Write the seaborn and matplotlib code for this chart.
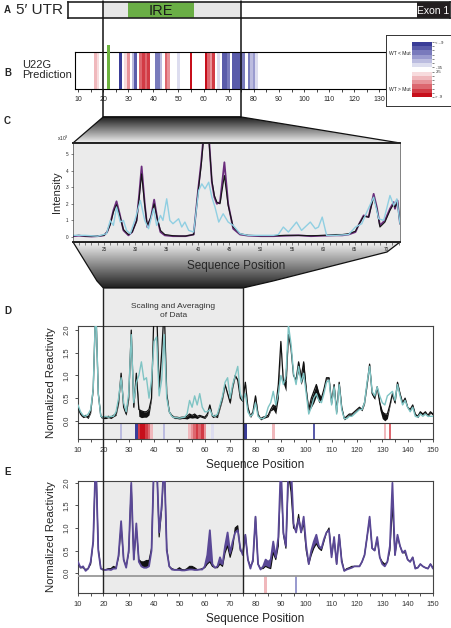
import numpy as np
import pandas as pd
import seaborn as sns
import matplotlib.pyplot as plt
from matplotlib.patches import Polygon, Rectangle

# ---------------- data ----------------
zoom_start, zoom_end = 20, 75      # region blown up in C and shaded in D/E
ire_start, ire_end = 30, 56
exon_start = 145
mut_pos = 22                       # U22G

# B: predicted reactivity differences (level -6 = WT > Mut ... +6 = WT < Mut)
b_pos = [17, 18, 27, 29, 30, 32, 33, 35, 36, 37, 38, 41, 42, 43, 45, 46, 50, 55,
         61, 62, 63, 64, 66, 68, 69, 70, 72, 73, 74, 75, 76, 78, 79, 80, 81]
b_level = [-2, -1, 6, -1, -3, 2, 5, -4, -5, -4, -5, 4, 4, 2, -4, -3, 1, -6,
           -6, -4, -3, -5, 1, 5, 5, 4, 5, 5, 5, 5, 4, 4, 2, 3, 1]

# C: capillary traces (x10^3)
c_x_mut = [20.1, 21, 22, 23, 24, 25, 25.5, 26, 26.5, 27, 27.5, 28.1, 28.9, 29.5, 30.2, 30.6,
           31.0, 31.5, 31.9, 32.5, 33.0, 33.5, 34.0, 34.7, 36, 37, 38, 39.3, 40.0, 40.5, 40.9,
           41.3, 41.7, 42.2, 42.6, 43.0, 43.5, 44.2, 44.8, 45.6, 46.7, 48, 50, 52, 54, 56,
           58, 60, 62, 63, 64, 65.1, 65.7, 66.4, 67.2, 68.0, 68.5, 69.0, 69.8, 70.6, 71.2,
           71.4, 71.8, 72.2]
c_purple = [0.05, 0.08, 0.05, 0.03, 0.05, 0.1, 0.3, 0.8, 1.6, 2.15, 1.4, 0.4, 0.1, 0.3, 1.0, 2.5,
            4.25, 2.0, 0.6, 1.2, 2.25, 1.1, 0.3, 0.1, 0.05, 0.05, 0.05, 0.15, 2.8, 4.5, 6.2,
            6.5, 6.2, 3.3, 2.4, 2.0, 2.1, 4.5, 2.0, 0.5, 0.15, 0.08, 0.05, 0.05, 0.08, 0.1,
            0.05, 0.08, 0.1, 0.1, 0.15, 0.3, 0.8, 1.3, 1.2, 2.6, 1.8, 0.7, 1.0, 1.7, 2.1,
            1.7, 2.2, 0.8]
c_black = [0.08, 0.1, 0.06, 0.05, 0.06, 0.1, 0.3, 0.75, 1.5, 1.95, 1.3, 0.45, 0.15, 0.3, 0.95, 2.3,
           3.8, 1.9, 0.7, 1.2, 2.0, 1.1, 0.4, 0.15, 0.08, 0.06, 0.06, 0.15, 2.7, 4.3, 6.0,
           6.3, 6.0, 3.4, 2.5, 2.1, 2.0, 3.7, 1.9, 0.6, 0.2, 0.1, 0.08, 0.08, 0.1, 0.1,
           0.08, 0.1, 0.15, 0.15, 0.2, 0.35, 0.8, 1.25, 1.2, 2.4, 1.7, 0.6, 0.9, 1.6, 2.0,
           1.8, 2.1, 0.8]
c_x_wt = [20.1, 22, 24, 25.4, 26.0, 26.5, 27.0, 27.6, 28.1, 28.6, 29.2, 30.0, 30.8, 31.5, 32.1,
          32.9, 33.4, 34.0, 34.4, 35.0, 35.5, 36.0, 36.9, 37.4, 37.9, 38.5, 39.3, 40.1, 40.6,
          41.1, 41.7, 42.2, 42.7, 43.3, 44.0, 44.8, 45.6, 46.7, 48, 50, 52, 52.8, 53.6, 54.4,
          55.7, 56.5, 57.9, 58.7, 59.2, 59.8, 60.5, 62, 64, 65.1, 66.1, 66.9, 68.0, 68.8,
          69.6, 70.6, 71.2, 71.7, 72.2]
c_blue = [0.1, 0.1, 0.05, 0.2, 1.0, 0.7, 1.8, 0.9, 1.0, 0.4, 0.2, 1.1, 2.2, 1.0, 0.5,
          1.7, 0.7, 1.3, 1.0, 2.3, 1.0, 0.8, 1.1, 0.6, 0.9, 0.4, 0.3, 2.8, 3.2,
          2.9, 3.3, 2.4, 1.8, 0.9, 1.4, 0.9, 0.7, 0.2, 0.1, 0.1, 0.1, 0.15, 0.6, 0.3,
          0.9, 0.4, 0.9, 0.5, 0.6, 1.2, 0.1, 0.1, 0.15, 0.6, 0.8, 1.5, 2.4, 1.1,
          1.0, 2.5, 1.9, 2.3, 0.8]

# D / E: normalized reactivity, positions 10..150
positions = np.arange(10, 151)
d_black = [0.30, 0.15, 0.10, 0.12, 0.08, 0.20, 0.70, 2.60, 0.60, 0.10,
           0.08, 0.08, 0.10, 0.08, 0.12, 0.15, 0.40, 1.05, 0.30, 0.15,
           0.50, 2.00, 0.30, 1.05, 0.25, 0.22, 0.20, 0.20, 0.25, 0.50,
           2.50, 2.50, 0.70, 1.50, 2.50, 0.60, 0.20, 0.12, 0.08, 0.08,
           0.07, 0.08, 0.08, 0.10, 0.15, 0.12, 0.15, 0.10, 0.12, 0.10,
           0.08, 0.15, 0.35, 0.10, 0.12, 0.10, 0.30, 0.50, 0.80, 0.60,
           0.40, 0.75, 1.00, 0.90, 0.50, 0.45, 0.85, 0.30, 0.10, 0.20,
           0.55, 0.15, 0.05, 0.08, 0.10, 0.12, 0.25, 0.35, 0.30, 0.80,
           1.75, 0.85, 0.90, 1.90, 1.60, 1.00, 0.90, 1.30, 0.95, 1.30,
           0.70, 0.25, 0.50, 0.65, 0.80, 0.60, 0.50, 0.70, 0.95, 0.95,
           0.40, 0.80, 0.20, 0.85, 0.30, 0.05, 0.10, 0.15, 0.15, 0.20,
           0.25, 0.30, 0.25, 0.40, 0.80, 1.25, 0.60, 0.50, 0.75, 0.40,
           0.20, 0.15, 0.15, 0.35, 0.60, 0.40, 0.85, 0.60, 0.40, 0.50,
           0.30, 0.25, 0.35, 0.15, 0.10, 0.20, 0.15, 0.20, 0.12, 0.20, 0.15]
d_band_wide = {34: 0.15, 35: 0.15, 36: 0.12, 37: 0.12, 38: 0.12, 53: 0.06, 54: 0.08,
               55: 0.06, 56: 0.08, 57: 0.05, 87: 0.10, 88: 0.15, 89: 0.30, 92: 0.25,
               97: 0.20, 98: 0.15, 99: 0.30, 102: 0.20, 103: 0.25, 104: 0.25, 105: 0.20,
               129: 0.15, 130: 0.15, 131: 0.15, 132: 0.10}
d_teal = [0.35, 0.20, 0.12, 0.10, 0.15, 0.25, 0.70, 2.60, 0.60, 0.10,
          0.08, 0.10, 0.08, 0.10, 0.10, 0.20, 0.50, 0.95, 0.40, 0.20,
          0.60, 1.90, 0.40, 0.85, 1.00, 1.30, 0.90, 0.95, 0.50, 0.90,
          1.75, 1.85, 0.55, 0.90, 1.90, 0.50, 0.20, 0.10, 0.07, 0.07,
          0.06, 0.07, 0.08, 0.15, 0.45, 0.30, 0.55, 0.35, 0.60, 0.30,
          0.20, 0.20, 0.25, 0.12, 0.10, 0.15, 0.35, 0.55, 0.85, 0.95,
          0.50, 0.80, 1.00, 1.20, 0.60, 0.45, 0.60, 0.20, 0.10, 0.15,
          0.40, 0.10, 0.05, 0.05, 0.10, 0.30, 0.40, 0.65, 0.35, 0.60,
          1.00, 0.80, 1.00, 2.10, 1.70, 1.05, 0.80, 1.20, 0.85, 1.05,
          0.60, 0.15, 0.30, 0.50, 0.60, 0.45, 0.40, 0.60, 0.85, 0.90,
          0.35, 0.75, 0.15, 0.80, 0.25, 0.05, 0.05, 0.10, 0.10, 0.15,
          0.20, 0.25, 0.25, 0.40, 0.85, 1.20, 0.65, 0.55, 0.75, 0.55,
          0.40, 0.35, 0.55, 0.60, 0.65, 0.45, 0.80, 0.55, 0.35, 0.45,
          0.30, 0.20, 0.30, 0.10, 0.08, 0.15, 0.10, 0.15, 0.10, 0.10, 0.10]
e_purple = [0.25, 0.12, 0.15, 0.05, 0.10, 0.25, 0.70, 2.60, 0.50, 0.10,
            0.07, 0.07, 0.08, 0.07, 0.10, 0.10, 0.40, 1.15, 0.30, 0.12,
            0.50, 2.00, 0.30, 1.10, 0.25, 0.15, 0.12, 0.12, 0.15, 0.50,
            2.50, 2.50, 0.90, 1.50, 2.50, 0.50, 0.15, 0.08, 0.07, 0.07,
            0.07, 0.06, 0.06, 0.07, 0.08, 0.08, 0.07, 0.07, 0.08, 0.08,
            0.15, 0.40, 0.95, 0.20, 0.12, 0.15, 0.35, 0.20, 0.60, 0.90,
            0.45, 0.70, 0.90, 0.95, 0.55, 0.40, 0.85, 0.30, 0.10, 0.30,
            1.25, 0.20, 0.08, 0.15, 0.30, 0.25, 0.30, 0.70, 0.35, 0.80,
            2.40, 0.90, 0.60, 2.40, 2.40, 1.10, 0.90, 1.20, 0.90, 1.25,
            0.60, 0.20, 0.50, 0.70, 0.85, 0.60, 0.55, 0.75, 0.90, 0.95,
            0.35, 0.80, 0.20, 0.85, 0.25, 0.05, 0.08, 0.10, 0.12, 0.15,
            0.15, 0.15, 0.25, 0.40, 0.80, 1.25, 0.55, 0.50, 0.80, 0.35,
            0.20, 0.15, 0.25, 0.60, 2.00, 0.40, 0.85, 0.60, 0.45, 0.50,
            0.30, 0.25, 0.35, 0.10, 0.12, 0.20, 0.15, 0.12, 0.10, 0.20, 0.10]
e_black = [0.20, 0.12, 0.12, 0.08, 0.10, 0.20, 0.70, 2.60, 0.55, 0.10,
           0.08, 0.08, 0.10, 0.10, 0.15, 0.12, 0.35, 1.05, 0.30, 0.15,
           0.45, 1.95, 0.30, 1.00, 0.30, 0.25, 0.25, 0.28, 0.28, 0.55,
           2.50, 2.50, 0.80, 1.40, 2.50, 0.55, 0.15, 0.10, 0.08, 0.08,
           0.12, 0.08, 0.07, 0.10, 0.15, 0.15, 0.12, 0.08, 0.08, 0.10,
           0.12, 0.20, 0.25, 0.15, 0.12, 0.12, 0.20, 0.15, 0.45, 0.60,
           0.35, 0.55, 1.00, 1.05, 0.50, 0.45, 0.85, 0.30, 0.15, 0.25,
           1.25, 0.20, 0.10, 0.10, 0.15, 0.12, 0.10, 0.45, 0.30, 0.60,
           2.20, 0.85, 0.55, 2.20, 1.80, 1.00, 0.95, 1.30, 0.90, 1.10,
           0.50, 0.20, 0.40, 0.55, 0.65, 0.55, 0.50, 0.70, 0.90, 1.00,
           0.40, 0.75, 0.20, 0.85, 0.30, 0.05, 0.10, 0.12, 0.15, 0.15,
           0.15, 0.15, 0.25, 0.40, 0.80, 1.20, 0.55, 0.50, 0.75, 0.35,
           0.25, 0.20, 0.25, 0.50, 1.50, 0.40, 0.80, 0.60, 0.45, 0.45,
           0.30, 0.25, 0.35, 0.12, 0.12, 0.20, 0.15, 0.12, 0.10, 0.20, 0.12]

d_strip_pos = [27, 33, 34, 35, 36, 37, 38, 39, 44, 54, 55, 56, 57, 58, 59, 60, 63, 76, 87, 103, 131, 133]
d_strip_level = [2, 6, -5, -6, -6, -5, -4, -2, 2, -2, -3, -4, -5, -4, -5, -3, 1, 6, -2, 5, -2, -4]
e_strip_pos = [84, 96]
e_strip_level = [-2, 3]

cb_labels = ['< -.9', '-.35', '.35', '> .9']

# ---------------- style ----------------
sns.set_theme(style='white')
plt.rcParams['font.family'] = ['Liberation Sans', 'DejaVu Sans']

pal = sns.blend_palette(['#3a3d98', '#9a9bcf', '#ffffff', '#e8959b', '#c70f1b'], 13)


def level_color(l):
    return pal[6 - l]


W, H = 452, 628
fig = plt.figure(figsize=(W / 100, H / 100), dpi=100)


def px_axes(x, y, w, h):
    return fig.add_axes([x / W, 1 - (y + h) / H, w / W, h / H])


def px_text(x, y, s, **kw):
    fig.text(x / W, 1 - y / H, s, **kw)


ax_bg = px_axes(0, 0, W, H)
ax_bg.set_zorder(-5)
ax_bg.axis('off')
ax_ov = px_axes(0, 0, W, H)
ax_ov.set_zorder(30)
ax_ov.axis('off')
for a in (ax_bg, ax_ov):
    a.set_xlim(0, W)
    a.set_ylim(H, 0)


def to_ov(ax, x, y):
    return ax_ov.transData.inverted().transform(ax.transData.transform((x, y)))


# ---------------- B ----------------
b_lim = (8.8, 132.6)
ax_b = px_axes(75, 52, 311, 37)
ax_b.set_xlim(*b_lim)
ax_b.set_ylim(0, 1)
ax_b.bar(b_pos, 1, width=1.05, color=[level_color(l) for l in b_level], linewidth=0)
ax_b.bar(mut_pos, 1.19, width=1.2, color='#6db33f', clip_on=False, zorder=4, linewidth=0)
ax_b.set_xticks(range(10, 131, 10))
ax_b.set_xticks(range(10, 131, 5), minor=True)
ax_b.set_yticks([])
ax_b.tick_params(axis='x', which='both', bottom=True, labelsize=5, length=2.5, width=0.6, pad=2.5)
for s in ax_b.spines.values():
    s.set_color('black')
    s.set_linewidth(0.8)

# legend box
ax_leg = px_axes(386, 35, 65, 71)
ax_leg.set_xticks([])
ax_leg.set_yticks([])
for s in ax_leg.spines.values():
    s.set_color('#333')
    s.set_linewidth(0.7)
ax_leg.text(0.04, 0.74, 'WT < Mut', fontsize=3.6, transform=ax_leg.transAxes, va='center')
ax_leg.text(0.04, 0.23, 'WT > Mut', fontsize=3.6, transform=ax_leg.transAxes, va='center')
ax_cb = px_axes(412, 42, 20, 55)
ax_cb.imshow(np.array(pal).reshape(13, 1, 3), aspect='auto')
ax_cb.set_xticks([])
ax_cb.yaxis.tick_right()
ax_cb.set_yticks(np.arange(-0.5, 13, 1))
ax_cb.set_yticklabels([cb_labels[0], '', '', '', '', '', cb_labels[1], cb_labels[2],
                       '', '', '', '', '', cb_labels[3]])
ax_cb.tick_params(axis='y', right=True, labelsize=3, length=1.5, width=0.4, pad=1)
for s in ax_cb.spines.values():
    s.set_visible(False)

# ---------------- A ----------------
ppu = 311 / (b_lim[1] - b_lim[0])
a_lim = (b_lim[0] - 7 / ppu, b_lim[0] + 375 / ppu)
ax_a = px_axes(68, 2, 382, 16)
ax_a.set_xlim(*a_lim)
ax_a.set_ylim(0, 1)
ax_a.axvspan(zoom_start, zoom_end, color='#e6e6e6', lw=0)
ax_a.axvspan(ire_start, ire_end, color='#6aae45', lw=0)
ax_a.axvspan(exon_start, a_lim[1], color='#231f20', lw=0)
ax_a.text((ire_start + ire_end) / 2, 0.45, 'IRE', ha='center', va='center', fontsize=10.5, color='#1a1a1a')
ax_a.text((exon_start + a_lim[1]) / 2, 0.45, 'Exon 1', ha='center', va='center', fontsize=7.5, color='white')
ax_a.set_xticks([])
ax_a.set_yticks([])
for s in ax_a.spines.values():
    s.set_color('#222')
    s.set_linewidth(1.2)

px_text(40, 10, '5\u2032 UTR', fontsize=11, ha='center', va='center')
px_text(22, 70, 'U22G\nPrediction', fontsize=8, ha='left', va='center', linespacing=1.1)

# ---------------- C ----------------
ax_c = px_axes(73, 143, 327, 99)
ax_c.set_facecolor('#ebebeb')
df_mut = pd.DataFrame({'pos': c_x_mut, 'purple': c_purple, 'black': c_black})
df_wt = pd.DataFrame({'pos': c_x_wt, 'blue': c_blue})
sns.lineplot(data=df_mut, x='pos', y='purple', ax=ax_c, color='#6a2c7c', lw=1.3)
sns.lineplot(data=df_mut, x='pos', y='black', ax=ax_c, color='#151515', lw=0.8)
sns.lineplot(data=df_wt, x='pos', y='blue', ax=ax_c, color='#90cfe2', lw=1.0)
ax_c.set_xlim(20.06, 72.2)
ax_c.set_ylim(-0.3, 5.66)
ax_c.set_yticks(range(0, 6))
ax_c.set_xticks(range(25, 71, 5))
ax_c.set_xticks(range(21, 73), minor=True)
ax_c.tick_params(axis='both', which='both', labelsize=3.3, length=1.8, width=0.4, pad=1.5,
                 bottom=True, left=True)
ax_c.set_xlabel('Sequence Position', fontsize=8.5, labelpad=6)
ax_c.set_ylabel('Intensity', fontsize=8, labelpad=3)
ax_c.text(-0.012, 1.0, 'x10$^3$', transform=ax_c.transAxes, fontsize=3.5, ha='right', va='bottom')
for k, s in ax_c.spines.items():
    s.set_color('#222')
    s.set_linewidth(1.4 if k in ('top', 'bottom') else 0.4)

# ---------------- D ----------------
ax_d = px_axes(78, 326, 355, 113)
df_d = pd.DataFrame({'pos': positions, 'black': d_black, 'teal': d_teal})
df_d['band'] = [d_band_wide.get(p, 0.03) for p in positions]
ax_d.axvspan(zoom_start, zoom_end, color='#ebebeb', lw=0, zorder=0)
ax_d.fill_between(df_d['pos'], df_d['black'] - df_d['band'], df_d['black'], color='#111', lw=0, zorder=2)
sns.lineplot(data=df_d, x='pos', y='black', ax=ax_d, color='#111', lw=0.9, zorder=3)
sns.lineplot(data=df_d, x='pos', y='teal', ax=ax_d, color='#7fc4c4', lw=1.0, zorder=4)
ax_d.bar(d_strip_pos, -0.35, bottom=-0.05, width=1,
         color=[level_color(l) for l in d_strip_level], lw=0, zorder=2)
ax_d.axhline(-0.05, color='#333', lw=0.8, zorder=5)
ax_d.set_ylim(-0.4, 2.09)

# ---------------- E ----------------
ax_e = px_axes(78, 481, 355, 112)
df_e = pd.DataFrame({'pos': positions, 'purple': e_purple, 'black': e_black})
ax_e.axvspan(zoom_start, zoom_end, color='#ebebeb', lw=0, zorder=0)
ax_e.fill_between(df_e['pos'], df_e['black'], df_e['purple'], where=df_e['purple'] >= df_e['black'],
                  interpolate=True, color='#5a4896', lw=0, zorder=2)
ax_e.fill_between(df_e['pos'], df_e['purple'], df_e['black'], where=df_e['black'] > df_e['purple'],
                  interpolate=True, color='#111', lw=0, zorder=2)
sns.lineplot(data=df_e, x='pos', y='black', ax=ax_e, color='#111', lw=0.8, zorder=3)
sns.lineplot(data=df_e, x='pos', y='purple', ax=ax_e, color='#5a4896', lw=1.3, zorder=4)
ax_e.bar(e_strip_pos, -0.37, bottom=-0.07, width=1,
         color=[level_color(l) for l in e_strip_level], lw=0, zorder=2)
ax_e.axhline(-0.07, color='#999', lw=1.3, zorder=5)
ax_e.set_ylim(-0.44, 2.04)

for ax in (ax_d, ax_e):
    ax.set_xlim(10, 150)
    ax.set_xticks(range(10, 151, 10))
    ax.set_xticks(range(10, 151, 5), minor=True)
    ax.set_yticks([0, 0.5, 1.0, 1.5, 2.0])
    ax.set_yticklabels(['0.0', '0.5', '1.0', '1.5', '2.0'], rotation=90, va='center')
    ax.tick_params(axis='both', which='both', labelsize=5.5, length=2.5, width=0.6, pad=3,
                   bottom=True, left=True, colors='#333')
    ax.set_xlabel('Sequence Position', fontsize=8.5, labelpad=4)
    ax.set_ylabel('Normalized Reactivity', fontsize=8.2, labelpad=5)
    for s in ax.spines.values():
        s.set_color('#444')
        s.set_linewidth(0.8)

ax_d.text(np.mean([zoom_start, zoom_end]), 2.25, 'Scaling and Averaging\nof Data', ha='center',
          va='bottom', fontsize=6, color='#333', linespacing=1.3, clip_on=False)

# ---------------- connectors ----------------
xz0 = to_ov(ax_b, zoom_start, 0)[0]
xz1 = to_ov(ax_b, zoom_end, 0)[0]
xd0 = to_ov(ax_d, zoom_start, 0)[0]
xd1 = to_ov(ax_d, zoom_end, 0)[0]


def gradient_poly(verts, v_top, v_bot):
    poly = Polygon(verts, closed=True, facecolor='none', edgecolor='#111', lw=0.9, zorder=3)
    ax_bg.add_patch(poly)
    xs = [v[0] for v in verts]
    ys = [v[1] for v in verts]
    grad = np.linspace(v_top, v_bot, 200).reshape(-1, 1)
    im = ax_bg.imshow(grad, cmap='gray', vmin=0, vmax=1, aspect='auto',
                      extent=(min(xs), max(xs), max(ys), min(ys)), zorder=2)
    im.set_clip_path(poly)


gradient_poly([(xz0, 117), (xz1, 117), (400, 143), (73, 143)], 0.12, 0.95)
gradient_poly([(73, 242), (400, 242), (387, 252), (273, 281), (xd1, 288), (xd0, 288), (97, 281)],
              0.95, 0.12)
ax_bg.add_patch(Rectangle((xd0, 288), xd1 - xd0, 326 - 288, facecolor='#ebebeb', lw=0, zorder=1))
ax_bg.set_xlim(0, W)
ax_bg.set_ylim(H, 0)

ax_ov.plot([xz0, xz0, xz1, xz1], [1, 117, 117, 1], color='#111', lw=1.1)
ax_ov.plot([xd0, xd0], [288, 593], color='#222', lw=1.0)
ax_ov.plot([xd1, xd1], [288, 593], color='#222', lw=1.0)

# panel letters
for letter, y in zip('ABCDE', [10, 73, 121, 311, 472]):
    px_text(4, y, letter, fontsize=7, fontweight='bold', va='center')

fig.savefig('out.png', dpi=100)
